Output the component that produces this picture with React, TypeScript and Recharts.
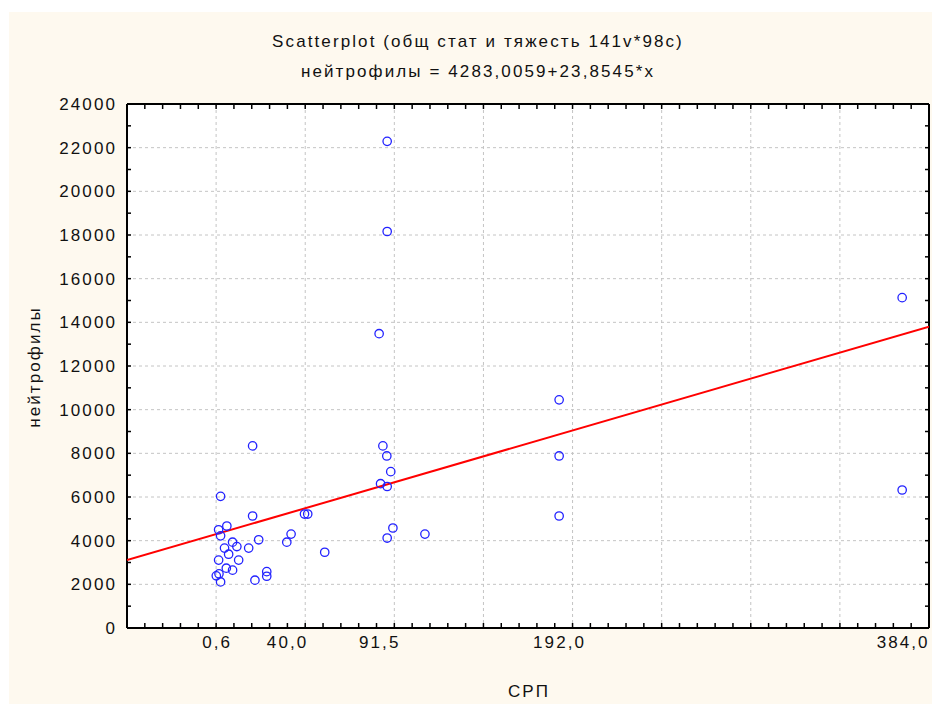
import React from "react";
import {
  ScatterChart,
  Scatter,
  XAxis,
  YAxis,
  CartesianGrid,
} from "recharts";

// СРП (x) vs нейтрофилы (y)
const CRP = [
  21.0, 3.1, 21.0, 2.0, 6.6, 3.1, 5.3, 9.8, 12.2, 7.6, 2.0, 13.2, 6.3, 9.8, 0.7,
  2.2, 3.1, 18.8, 24.4, 22.3, 28.9, 28.9, 40.1, 42.5, 50.0, 51.8, 61.3, 93.8,
  96.0, 98.2, 92.5, 96.2, 99.4, 96.2, 117.3, 96.2, 96.2, 91.7, 192.3, 192.3,
  192.3, 384.0, 384.0,
];
const NEUTRO = [
  8340, 6030, 5130, 4500, 4670, 4220, 3660, 3930, 3730, 3380, 3110, 3110, 2740,
  2650, 2390, 2480, 2110, 3660, 4040, 2190, 2580, 2370, 3930, 4300, 5220, 5220,
  3470, 8340, 7880, 7160, 6610, 6480, 4580, 4120, 4300, 22290, 18160, 13480,
  10450, 7880, 5130, 15130, 6320,
];

// regression line endpoints at the plot edges
const FIT_X = [-49.2, 399];
const FIT_Y = [3109, 13801];

const X_DOMAIN: [number, number] = [-49.2, 399];
const X_GRID = [0.6, 50.4, 100.2, 150, 199.8, 249.6, 299.4, 349.2];
const X_MAJOR = [-49.2, 0.6, 50.4, 100.2, 150, 199.8, 249.6, 299.4, 349.2, 399];
const X_LABELS = [0.6, 40, 91.5, 192, 384];
const Y_LABELS = [0, 2000, 4000, 6000, 8000, 10000, 12000, 14000, 16000, 18000, 20000, 22000, 24000];
const Y_MINOR = [1000, 3000, 5000, 7000, 9000, 11000, 13000, 15000, 17000, 19000, 21000, 23000];

const points = CRP.map((x, i) => ({ x, y: NEUTRO[i] }));
const fit = FIT_X.map((x, i) => ({ x, y: FIT_Y[i] }));

// minor ticks: 5 steps between major x gridlines
const xMinor: number[] = [];
X_MAJOR.forEach((v, i) => {
  const next = X_MAJOR[i + 1];
  if (next === undefined) {
    xMinor.push(v);
    return;
  }
  for (let k = 0; k < 5; k++) xMinor.push(+(v + ((next - v) * k) / 5).toFixed(3));
});
const xBottomTicks = Array.from(new Set([...xMinor, ...X_LABELS])).sort((a, b) => a - b);
const yTicks = [...Y_LABELS, ...Y_MINOR].sort((a, b) => a - b);

const FONT = "'Liberation Sans', Arial, sans-serif";
const TXT = { fontFamily: FONT, fontSize: 17, fill: "#111", letterSpacing: 2.1 };

const fmtX = (v: number) => v.toFixed(1).replace(".", ",");

const BottomTick = (p: any) => {
  const v = p.payload.value;
  const isLabel = X_LABELS.includes(v);
  const isMinor = xMinor.includes(v);
  return (
    <g>
      {isMinor && <line x1={p.x} x2={p.x} y1={p.y} y2={p.y - 5} stroke="#000" strokeWidth={1.5} />}
      {isLabel && (
        <text x={p.x + 1} y={p.y + 20} textAnchor="middle" {...TXT}>
          {fmtX(v)}
        </text>
      )}
    </g>
  );
};

const TopTick = (p: any) => (
  <line x1={p.x} x2={p.x} y1={p.y} y2={p.y + 5} stroke="#000" strokeWidth={1.5} />
);

const LeftTick = (p: any) => {
  const v = p.payload.value;
  return (
    <g>
      <line x1={p.x} x2={p.x + 4} y1={p.y} y2={p.y} stroke="#000" strokeWidth={1.5} />
      {Y_LABELS.includes(v) && (
        <text x={p.x - 10} y={p.y} dy="0.36em" textAnchor="end" {...TXT}>
          {v}
        </text>
      )}
    </g>
  );
};

const RightTick = (p: any) => (
  <line x1={p.x} x2={p.x - 4} y1={p.y} y2={p.y} stroke="#000" strokeWidth={1.5} />
);

const Circle = (p: any) => (
  <circle cx={p.cx} cy={p.cy} r={4.2} fill="none" stroke="#2222ff" strokeWidth={1.3} />
);

export default function App() {
  const W = 923;
  const H = 692;
  const axisLine = { stroke: "#000", strokeWidth: 2 };
  return (
    <div style={{ position: "absolute", left: 9, top: 12, width: W, height: H, background: "#fef9ef" }}>
      <ScatterChart width={W} height={H} margin={{ top: 91, right: 2, bottom: 36, left: 58 }}>
        <CartesianGrid
          fill="#ffffff"
          stroke="#c4c4c4"
          strokeDasharray="3 3"
          verticalValues={X_GRID}
          horizontalValues={Y_LABELS.slice(1, -1)}
        />
        <XAxis
          xAxisId={0}
          type="number"
          dataKey="x"
          domain={X_DOMAIN}
          allowDataOverflow
          ticks={xBottomTicks}
          interval={0}
          height={40}
          tickSize={0}
          tickMargin={0}
          tickLine={false}
          axisLine={axisLine}
          tick={BottomTick}
        />
        <XAxis
          xAxisId="top"
          orientation="top"
          type="number"
          dataKey="x"
          domain={X_DOMAIN}
          allowDataOverflow
          ticks={xMinor}
          interval={0}
          height={1}
          tickSize={0}
          tickMargin={0}
          tickLine={false}
          axisLine={axisLine}
          tick={TopTick}
        />
        <YAxis
          yAxisId={0}
          type="number"
          dataKey="y"
          domain={[0, 24000]}
          allowDataOverflow
          ticks={yTicks}
          interval={0}
          width={60}
          tickSize={0}
          tickMargin={0}
          tickLine={false}
          axisLine={axisLine}
          tick={LeftTick}
        />
        <YAxis
          yAxisId="right"
          orientation="right"
          type="number"
          dataKey="y"
          domain={[0, 24000]}
          allowDataOverflow
          ticks={yTicks}
          interval={0}
          width={1}
          tickSize={0}
          tickMargin={0}
          tickLine={false}
          axisLine={axisLine}
          tick={RightTick}
        />
        <Scatter
          data={fit}
          xAxisId={0}
          yAxisId={0}
          line={{ stroke: "#ff0000", strokeWidth: 2 }}
          shape={() => <g />}
          isAnimationActive={false}
        />
        <Scatter data={points} xAxisId={0} yAxisId={0} shape={Circle} isAnimationActive={false} />
      </ScatterChart>
      <svg
        width={W}
        height={H}
        style={{ position: "absolute", left: 0, top: 0, pointerEvents: "none" }}
      >
        <text x={469} y={35} textAnchor="middle" {...TXT}>
          Scatterplot (общ стат и тяжесть 141v*98c)
        </text>
        <text x={469} y={65} textAnchor="middle" {...TXT}>
          нейтрофилы = 4283,0059+23,8545*x
        </text>
        <text x={520} y={685} textAnchor="middle" {...TXT}>
          СРП
        </text>
        <text x={31} y={355} textAnchor="middle" transform="rotate(-90 31 355)" {...TXT}>
          нейтрофилы
        </text>
      </svg>
    </div>
  );
}
